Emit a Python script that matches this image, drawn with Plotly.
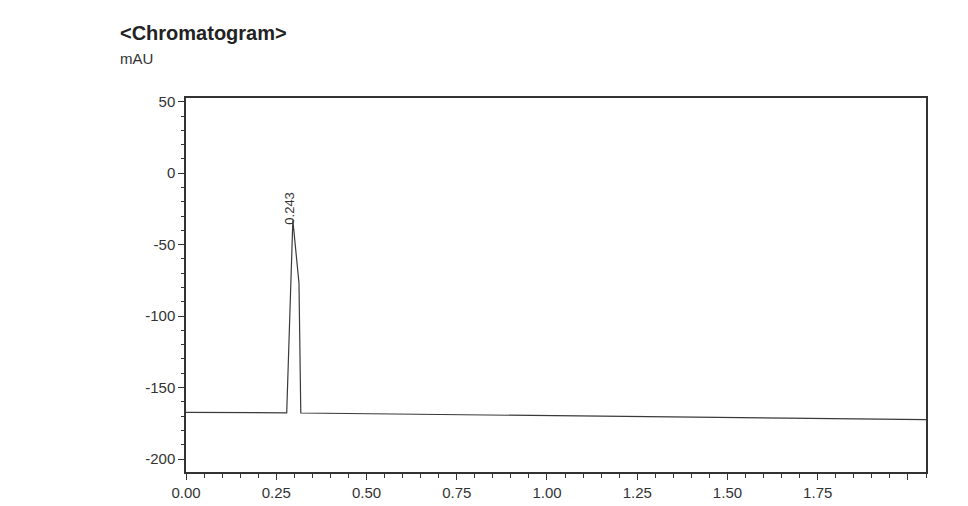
import plotly.graph_objects as go

# Data
time_min = [0.0, 0.10, 0.20, 0.279, 0.296, 0.313, 0.318, 0.50, 0.75, 1.00, 1.25, 1.50, 1.75, 2.05]
signal_mau = [-167.4, -167.5, -167.6, -167.7, -33.0, -77.0, -167.8, -168.3, -169.0, -169.7, -170.4, -171.0, -171.7, -172.5]
peak_time = 0.296
peak_value = -33.0
peak_label = "0.243"

x_tickvals = [0.0, 0.25, 0.5, 0.75, 1.0, 1.25, 1.5, 1.75, 2.0]
x_ticktext = ["0.00", "0.25", "0.50", "0.75", "1.00", "1.25", "1.50", "1.75", ""]
y_tickvals = [50, 0, -50, -100, -150, -200]
y_ticktext = ["50", "0", "-50", "-100", "-150", "-200"]

# page body has an 8px margin
W, H = 952, 498
ML, MR, MT, MB = 178, 34, 90, 34

fig = go.Figure()
fig.add_trace(go.Scatter(
    x=time_min, y=signal_mau, mode="lines",
    line=dict(color="#3a3a3a", width=1.2),
    showlegend=False, hoverinfo="x+y",
))

fig.add_annotation(
    x=peak_time, y=peak_value, text=peak_label, textangle=-90,
    showarrow=False, xanchor="center", yanchor="bottom",
    xshift=-3, yshift=-6,
    font=dict(family="Liberation Sans, Arial", size=13, color="#333"),
)

plot_w = W - ML - MR
plot_h = H - MT - MB
def px_to_paper_x(px):
    return (px - 8 - ML) / plot_w
def px_to_paper_y(py):
    return (H - MB - (py - 8)) / plot_h

fig.add_annotation(
    x=px_to_paper_x(118), y=px_to_paper_y(33), xref="paper", yref="paper",
    text="<b>&lt;Chromatogram&gt;</b>", showarrow=False,
    xanchor="left", yanchor="middle",
    font=dict(family="Liberation Sans, Arial", size=20, color="#222"),
)
fig.add_annotation(
    x=px_to_paper_x(118), y=px_to_paper_y(58), xref="paper", yref="paper",
    text="mAU", showarrow=False, xanchor="left", yanchor="middle",
    font=dict(family="Liberation Sans, Arial", size=15, color="#333"),
)

axis_font = dict(family="Liberation Sans, Arial", size=15, color="#333")

fig.update_layout(
    width=W, height=H,
    margin=dict(l=ML, r=MR, t=MT, b=MB),
    paper_bgcolor="white", plot_bgcolor="white",
    font=axis_font,
)

fig.update_xaxes(
    range=[0, 2.05], tickvals=x_tickvals, ticktext=x_ticktext, automargin=False,
    ticks="outside", ticklen=6, tickwidth=1.2, tickcolor="#333",
    showline=True, linecolor="#333", linewidth=1.5, mirror=True,
    showgrid=False, zeroline=False, tickfont=axis_font,
    minor=dict(dtick=0.05, ticks="outside", ticklen=4, tickcolor="#333", tickwidth=1, showgrid=False),
)
fig.update_yaxes(
    range=[-209.1, 52.6], tickvals=y_tickvals, ticktext=y_ticktext, automargin=False,
    ticks="outside", ticklen=6, tickwidth=1.2, tickcolor="#333",
    showline=True, linecolor="#333", linewidth=1.5, mirror=True,
    showgrid=False, zeroline=False, tickfont=axis_font,
    minor=dict(dtick=10, ticks="outside", ticklen=3, tickcolor="#333", tickwidth=1, showgrid=False),
)

fig.write_html("out.html")
